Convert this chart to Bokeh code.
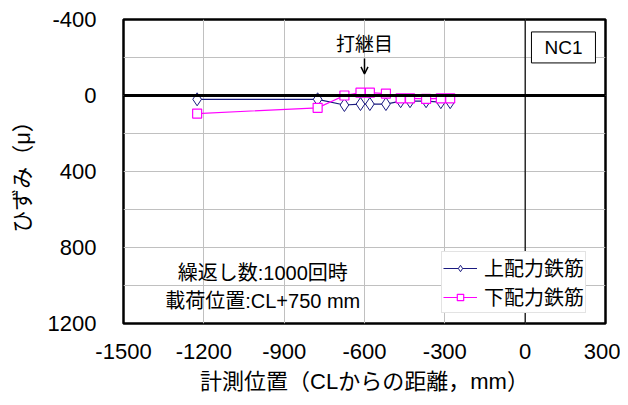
from bokeh.plotting import figure
from bokeh.models import (Range1d, FixedTicker, Span, Label, Legend, LegendItem,
                          Arrow, OpenHead)
from bokeh.embed import file_html
from bokeh.resources import INLINE

# ---- data ----
positions = [-1225, -775, -675, -615, -580, -520, -465, -430, -370, -315, -280]
upper_strain = [20, 20, 50, 45, 45, 45, 30, 30, 30, 35, 35]
lower_strain = [95, 65, 0, -15, -15, -10, 15, 15, 18, 15, 15]
series_names = ["上配力鉄筋", "下配力鉄筋"]
x_ticks = [-1500, -1200, -900, -600, -300, 0, 300]
y_ticks = [-400, 0, 400, 800, 1200]
y_grid_ticks = [-400, -200, 0, 200, 400, 600, 800, 1000, 1200]
joint_position = -600

JP = "Liberation Sans, Noto Sans CJK JP"
LAT = "Liberation Sans"

p = figure(width=620, height=397, output_backend="svg", toolbar_location=None,
           x_range=Range1d(-1500, 300), y_range=Range1d(1200, -400),
           min_border_left=123, min_border_right=15, min_border_top=19,
           min_border_bottom=74)

p.outline_line_color = "black"
p.outline_line_width = 2.5
p.background_fill_color = "white"

p.xaxis.ticker = FixedTicker(ticks=x_ticks)
p.yaxis.ticker = FixedTicker(ticks=y_ticks)
p.xaxis.major_label_overrides = {t: str(t) for t in x_ticks}
p.yaxis.major_label_overrides = {t: str(t) for t in y_ticks}
p.xgrid.ticker = FixedTicker(ticks=x_ticks)
p.ygrid.ticker = FixedTicker(ticks=y_grid_ticks)
for g in (p.xgrid, p.ygrid):
    g.grid_line_color = "#c0c0c0"
    g.grid_line_width = 1

for ax in (p.xaxis, p.yaxis):
    ax.axis_line_color = None
    ax.major_tick_line_color = None
    ax.minor_tick_line_color = None
    ax.major_label_text_font = LAT
    ax.major_label_text_font_size = "22px"
    ax.major_label_text_color = "black"
    ax.axis_label_text_font = JP
    ax.axis_label_text_font_size = "22px"
    ax.axis_label_text_font_style = "normal"
    ax.axis_label_text_color = "black"

p.xaxis.major_label_standoff = 14
p.yaxis.major_label_standoff = 21
p.xaxis.axis_label_standoff = 7
p.yaxis.axis_label_standoff = 10
p.xaxis.axis_label = "計測位置（CLからの距離，mm）"
p.yaxis.axis_label = "ひずみ（μ）"

# reference lines
p.add_layout(Span(location=0, dimension="width", line_color="black", line_width=3))
p.add_layout(Span(location=0, dimension="height", line_color="black", line_width=1.2))

# series
l1 = p.line(positions, upper_strain, line_color="#1a1a80", line_width=1.2)
s1 = p.scatter(positions, upper_strain, marker="diamond", size=13,
               line_color="#1a1a80", fill_color="white", line_width=1)
l2 = p.line(positions, lower_strain, line_color="#ff00ff", line_width=1.2)
s2 = p.scatter(positions, lower_strain, marker="square", size=9,
               line_color="#ff00ff", fill_color="white", line_width=1.2)

legend = Legend(items=[LegendItem(label=series_names[0], renderers=[l1, s1]),
                       LegendItem(label=series_names[1], renderers=[l2, s2])],
                location=(318, 10), orientation="vertical",
                label_text_font=JP, label_text_font_size="20px",
                label_text_color="black",
                glyph_width=34, glyph_height=16, label_height=16,
                spacing=0, padding=1, margin=0, label_standoff=7,
                border_line_color="#c8c8c8", border_line_width=1,
                background_fill_color="white", background_fill_alpha=1)
p.add_layout(legend, "center")

# annotations
p.add_layout(Label(x=-980, y=932, text="繰返し数:1000回時", text_font=JP,
                   text_font_size="20px", text_align="center",
                   text_baseline="middle", text_color="black"))
p.add_layout(Label(x=-980, y=1079, text="載荷位置:CL+750 mm", text_font=JP,
                   text_font_size="20px", text_align="center",
                   text_baseline="middle", text_color="black"))
p.add_layout(Label(x=joint_position, y=-268, text="打継目", text_font=JP,
                   text_font_size="19px", text_align="center",
                   text_baseline="middle", text_color="black"))
p.add_layout(Arrow(end=OpenHead(size=7, line_width=1.5, line_color="black"),
                   x_start=joint_position, y_start=-195,
                   x_end=joint_position, y_end=-114,
                   line_color="black", line_width=1.5))
p.add_layout(Label(x=143, y=-253, text="NC1", text_font=LAT,
                   text_font_size="19px", text_align="center",
                   text_baseline="middle", text_color="black",
                   border_line_color="black", border_line_width=1,
                   background_fill_color="white", padding=(13, 5)))

open("out.html", "w").write(file_html(p, INLINE))
